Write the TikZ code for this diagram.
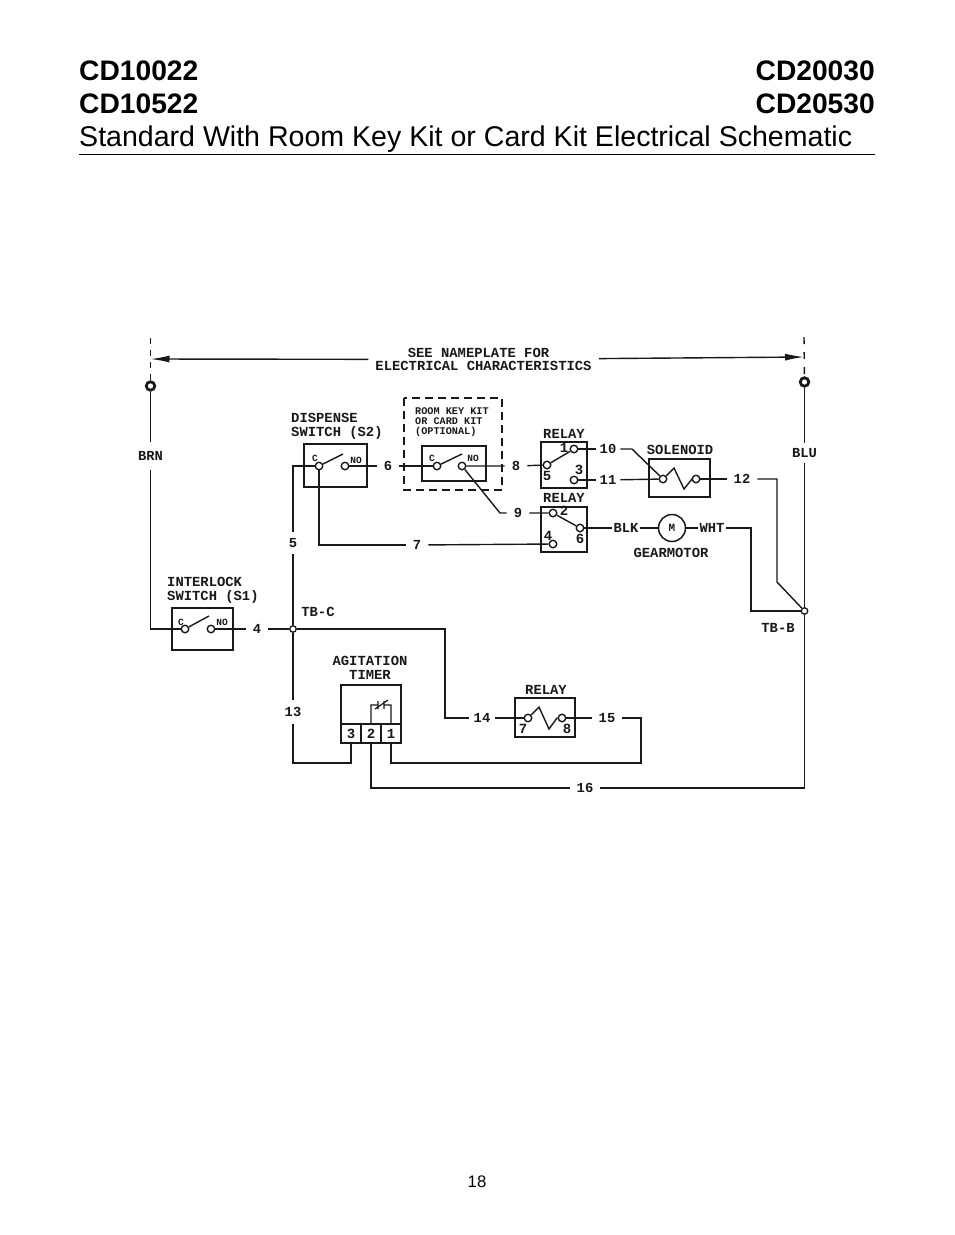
\documentclass[tikz,border=0pt]{standalone}
\usepackage{fontspec}
\setmainfont{Liberation Sans}
\newfontfamily\schem{Liberation Mono}
\usetikzlibrary{arrows.meta}
\definecolor{ink}{gray}{0.1}
\newcommand{\fsz}[1]{\fontsize{#1}{#1}\selectfont}
\tikzset{
  wire/.style={draw=ink,line width=1.4pt,line join=miter},
  boxx/.style={draw=ink,line width=1.4pt},
  term/.style={circle,draw=ink,fill=white,line width=1.4pt,inner sep=0pt,minimum size=7.5pt},
  supply/.style={circle,draw=ink,fill=white,line width=2.8pt,inner sep=0pt,minimum size=8.5pt},
  junct/.style={circle,draw=ink,fill=white,line width=1.3pt,inner sep=0pt,minimum size=6.5pt},
  lab/.style={inner sep=0pt,text=ink,font=\schem\bfseries\fsz{13.85},align=center},
  wlab/.style={inner xsep=7pt,inner ysep=1pt,text=ink,font=\schem\bfseries\fsz{13.8},text height=9pt,text depth=0pt},
  small/.style={inner sep=0pt,text=ink,font=\schem\bfseries\fsz{10.2},align=left},
  tiny/.style={inner sep=0pt,text=ink,font=\schem\bfseries\fsz{9.5}},
  num/.style={inner sep=0pt,text=ink,font=\schem\bfseries\fsz{14}},
  head/.style={inner sep=0pt,text=black,font=\bfseries\fsz{28.2},text height=20pt,text depth=0pt},
  sub/.style={inner sep=0pt,text=black,font=\fsz{28.56},text height=20pt,text depth=6pt},
}
\begin{document}
\begin{tikzpicture}[x=1pt,y=-1pt]
\useasboundingbox[fill=white] (0,0) rectangle (954,1235);
% headings
\node[head,anchor=base west] (h1) at (79,80) {CD10022};
\node[head,anchor=base east] (h2) at (875,80) {CD20030};
\node[head,anchor=base west] (h3) at (79,113) {CD10522};
\node[head,anchor=base east] (h4) at (875,113) {CD20530};
\node[sub,anchor=base west] (h5) at (79,146.5) {Standard With Room Key Kit or Card Kit Electrical Schematic};
\coordinate (rl) at (79,154.5); \coordinate (rr) at (875,154.5);
\draw[black,line width=1.7pt] (rl) -- (rr);
\node[inner sep=0pt,text=black,font=\fsz{16.7}] (pg) at (477,1182) {18};

% boxes
\draw[boxx] (304,444) rectangle (367,487);
\draw[boxx] (422,446) rectangle (486,481);
\draw[boxx] (541,442) rectangle (587,488);
\draw[boxx] (541,507) rectangle (587,552);
\draw[boxx] (649,459) rectangle (710,497);
\draw[boxx] (172,608) rectangle (233,650);
\draw[boxx] (515,698) rectangle (575,737);
\draw[boxx] (341,685) rectangle (401,743);
\draw[boxx] (341,724) -- (401,724) (361,724) -- (361,743) (381,724) -- (381,743);
\draw[draw=ink,line width=1.5pt,dash pattern=on 8pt off 5pt] (404,398) rectangle (502,490);

% terminals
\node[term] (s2c) at (319,466) {};
\node[term] (s2no) at (345,466) {};
\node[term] (kc) at (437,466) {};
\node[term] (kno) at (462,466) {};
\node[term] (r1) at (574,449) {};
\node[term] (r5) at (547,465) {};
\node[term] (r3) at (574,480) {};
\node[term] (r2) at (553,513) {};
\node[term] (r6) at (580,528) {};
\node[term] (r4) at (553,544) {};
\node[term] (sa) at (663,479) {};
\node[term] (sb) at (696,479) {};
\node[term] (s1c) at (185,629) {};
\node[term] (s1no) at (211,629) {};
\node[term] (r7) at (528,718) {};
\node[term] (r8) at (562,718) {};
\node[junct] (tbc) at (293,629) {};
\node[junct] (tbb) at (804.5,611) {};
\node[supply] (srcl) at (150.5,386) {};
\node[supply] (srcr) at (804.5,382) {};
\node[circle,draw=ink,line width=1.5pt,inner sep=0pt,minimum size=27pt,text=ink,font=\schem\bfseries\fsz{11}] (motor) at (672,528) {M};
\coordinate (t3) at (351,743);
\coordinate (t2) at (371,743);
\coordinate (t1) at (391,743);

% wire labels
\node[wlab] (w4) at (257,629) {4};
\node[wlab,inner ysep=6pt] (w5) at (293,543) {5};
\node[wlab] (w6) at (388,466) {6};
\node[wlab] (w7) at (417,545) {7};
\node[wlab] (w8) at (516,466) {8};
\node[wlab] (w9) at (518,513) {9};
\node[wlab,inner xsep=4pt] (w10) at (608,449) {10};
\node[wlab,inner xsep=4pt] (w11) at (608,480) {11};
\node[wlab] (w12) at (742,479) {12};
\node[wlab,inner ysep=7pt] (w13) at (293,712) {13};
\node[wlab,inner xsep=5pt] (w14) at (482,718) {14};
\node[wlab] (w15) at (607,718) {15};
\node[wlab] (w16) at (585,788) {16};
\node[wlab,inner xsep=1pt] (blk) at (626,528) {BLK};
\node[wlab,inner xsep=1pt] (wht) at (712,528) {WHT};
\node[wlab,inner xsep=0pt,inner ysep=9pt] (brn) at (150.5,456) {BRN};
\node[wlab,inner xsep=0pt,inner ysep=5pt] (blu) at (804.5,453) {BLU};
\node[lab,inner xsep=7pt,fill=white] (see) at (483.5,359.5) {\hspace*{-10pt}SEE NAMEPLATE FOR\\ELECTRICAL CHARACTERISTICS};

% limits and arrow
\coordinate (topl) at (150.5,338);
\coordinate (topr) at (804,337);
\coordinate (tipl) at (150.5,359);
\coordinate (tipr) at (804,357);
\draw[draw=ink,line width=1.4pt,dash pattern=on 6pt off 6pt] (topl) -- (srcl);
\draw[draw=ink,line width=1.4pt,dash pattern=on 7pt off 8pt] (topr) -- (srcr);
\draw[wire,-{Latex[length=19pt,width=7pt]}] (see) -- (tipl);
\draw[wire,-{Latex[length=19pt,width=7pt]}] (see) -- (tipr);

% wires
\coordinate (bl) at (150.5,629);
\draw[wire] (srcl) -- (brn) -- (bl) -- (s1c);
\draw[wire] (s1no) -- (w4) -- (tbc);
\coordinate (v5) at (293,466);
\draw[wire] (tbc) -- (w5) -- (v5) -- (s2c);
\draw[wire] (s2no) -- (w6) -- (kc);
\coordinate (c7) at (319,545);
\draw[wire] (s2c) -- (c7) -- (w7);
\draw[wire] (w7) -- (r4);
\draw[wire] (kno) -- (w8) -- (r5);
\coordinate (d9) at (500,513);
\draw[wire] (kno) -- (d9) -- (w9) -- (r2);
\draw[wire] (r1) -- (w10);
\draw[wire] (r3) -- (w11);
\coordinate (d10) at (632,449);
\draw[wire] (w10) -- (d10) -- (sa);
\draw[wire] (w11) -- (sa);
\draw[wire] (sb) -- (w12);
\coordinate (c12) at (777,479);
\coordinate (d12) at (777,582);
\draw[wire] (w12) -- (c12) -- (d12) -- (tbb);
\draw[wire] (r6) -- (blk) -- (motor) -- (wht);
\coordinate (c13) at (751,528);
\coordinate (d13) at (751,611);
\draw[wire] (wht) -- (c13) -- (d13) -- (tbb);
\draw[wire] (srcr) -- (blu) -- (tbb);
\coordinate (c14) at (445,629);
\coordinate (d14) at (445,718);
\draw[wire] (tbc) -- (c14) -- (d14) -- (w14) -- (r7);
\draw[wire] (r8) -- (w15);
\coordinate (c15) at (641,718);
\coordinate (d15) at (641,763);
\coordinate (e15) at (391,763);
\draw[wire] (w15) -- (c15) -- (d15) -- (e15) -- (t1);
\coordinate (c13b) at (293,763);
\coordinate (e13) at (351,763);
\draw[wire] (tbc) -- (w13) -- (c13b) -- (e13) -- (t3);
\coordinate (c16) at (371,788);
\coordinate (e16) at (804.5,788);
\draw[wire] (t2) -- (c16) -- (w16) -- (e16) -- (tbb);

% switch arms
\coordinate (a2) at (343,454);
\coordinate (ak) at (462,454);
\coordinate (a1) at (209,616);
\draw[wire] (s2c) -- (a2);
\draw[wire] (kc) -- (ak);
\draw[wire] (s1c) -- (a1);
\draw[wire] (r5) -- (r1);
\draw[wire] (r2) -- (r6);
% coils
\draw[wire] (sa) -- (674,468) -- (684,489) -- (692,479) -- (sb);
\draw[wire] (r7) -- (539,707) -- (549,729) -- (557,718) -- (r8);
% timer contact
\draw[draw=ink,line width=1.2pt] (371,724) -- (371,705) -- (378,705) (378,701) -- (378,709) (384,701) -- (384,709) (384,705) -- (391,705) -- (391,724) (375,709) -- (388,700);

% texts
\node[lab,anchor=west,align=left] (tdis) at (291,426.5) {DISPENSE\\SWITCH (S2)};
\node[small,anchor=west] (troom) at (415,422) {ROOM KEY KIT\\OR CARD KIT\\(OPTIONAL)};
\node[lab] (trel1) at (564,434) {RELAY};
\node[lab] (trel2) at (564,498) {RELAY};
\node[lab] (tsol) at (680,450) {SOLENOID};
\node[lab] (tgear) at (671,553) {GEARMOTOR};
\node[lab,anchor=west,align=left] (tinter) at (167,590.5) {INTERLOCK\\SWITCH (S1)};
\node[lab] (ttbc) at (318,612) {TB-C};
\node[lab] (ttbb) at (778,628) {TB-B};
\node[lab] (tagi) at (370,668) {AGITATION\\TIMER};
\node[lab] (trel3) at (546,690) {RELAY};
\node[tiny] (q1) at (315,458) {C};
\node[tiny] (q2) at (356,460) {NO};
\node[tiny] (q3) at (432,458) {C};
\node[tiny] (q4) at (473,458) {NO};
\node[tiny] (q5) at (181,622) {C};
\node[tiny] (q6) at (222,622) {NO};
\node[num] (n1) at (564,447.5) {1};
\node[num] (n5) at (547,475.5) {5};
\node[num] (n3) at (579,470) {3};
\node[num] (n2) at (564,511) {2};
\node[num] (n6) at (580,539) {6};
\node[num] (n4) at (548,536) {4};
\node[num] (n7) at (523,729) {7};
\node[num] (n8) at (567,729) {8};
\node[num] (p3) at (351,734) {3};
\node[num] (p2) at (371,734) {2};
\node[num] (p1) at (391,734) {1};
\end{tikzpicture}
\end{document}
